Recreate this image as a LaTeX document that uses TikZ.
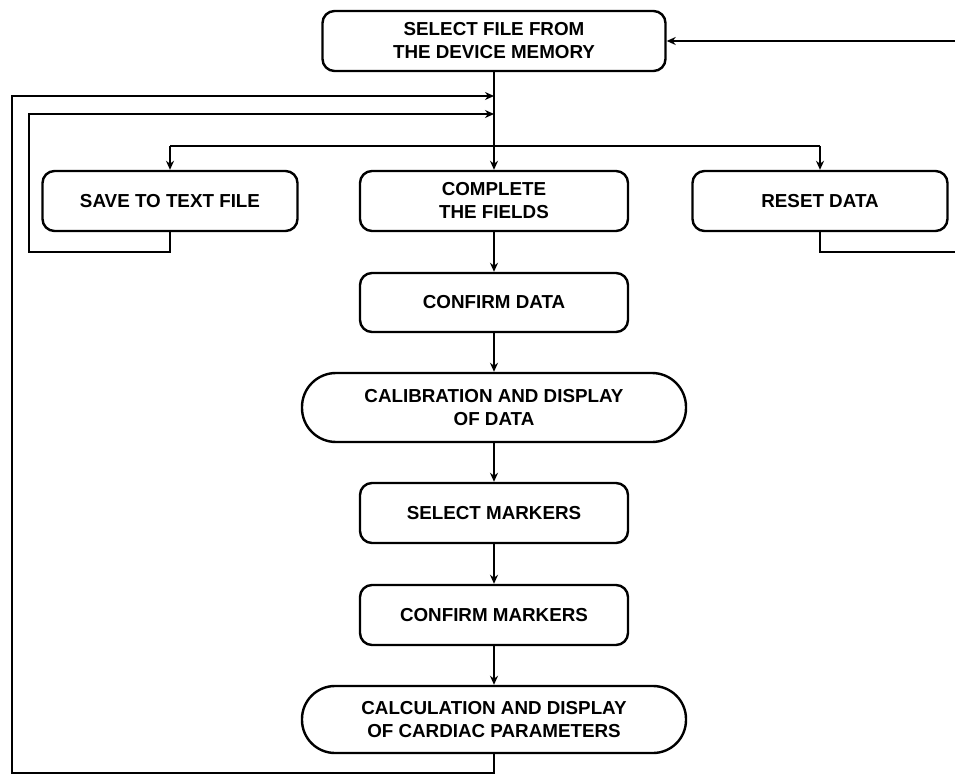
\documentclass[tikz,border=0pt]{standalone}
\usepackage{fontspec}
\setmainfont{Liberation Sans}
\usetikzlibrary{arrows.meta}
\begin{document}
\begin{tikzpicture}[x=1pt,y=-1pt,
  every node/.style={font=\fontsize{18.8}{23}\selectfont\bfseries, align=center, line width=2.4pt, inner sep=0pt},
  box/.style={draw, rectangle, rounded corners=12pt, minimum height=60pt},
  term/.style={draw, rectangle, rounded corners=34pt},
  conn/.style={line width=2.2pt},
  arr/.style={conn, -{Stealth[length=9pt,width=8pt]}}]
\useasboundingbox (0,0) rectangle (955,775);
\node[box, minimum width=343pt] (top) at (494,41) {SELECT FILE FROM\\THE DEVICE MEMORY};
\node[box, minimum width=255pt] (save) at (170,201) {SAVE TO TEXT FILE};
\node[box, minimum width=268pt] (fields) at (494,201) {COMPLETE\\THE FIELDS};
\node[box, minimum width=255pt] (reset) at (820,201) {RESET DATA};
\node[box, minimum width=268pt, minimum height=59pt] (cdata) at (494,302.5) {CONFIRM DATA};
\node[term, minimum width=384pt, minimum height=69pt] (calib) at (494,407.5) {CALIBRATION AND DISPLAY\\OF DATA};
\node[box, minimum width=268pt] (smark) at (494,513) {SELECT MARKERS};
\node[box, minimum width=268pt] (cmark) at (494,615) {CONFIRM MARKERS};
\node[term, minimum width=384pt, minimum height=67pt, rounded corners=33pt] (calc) at (494,719.5) {CALCULATION AND DISPLAY\\OF CARDIAC PARAMETERS};
% junction coordinates
\coordinate (inA) at (top.south |- 0,96);
\coordinate (inB) at (top.south |- 0,114);
\coordinate (split) at (top.south |- 0,146);
\coordinate (rin) at (955,41);
\coordinate (rout) at (955,252);
% main flow
\draw[arr] (rin) -- (top.east);
\draw[arr] (top.south) -- (fields.north);
\draw[conn] (split) -- (save.north |- split);
\draw[conn] (split) -- (reset.north |- split);
\draw[arr] (save.north |- split) -- (save.north);
\draw[arr] (reset.north |- split) -- (reset.north);
\draw[arr] (fields) -- (cdata);
\draw[arr] (cdata) -- (calib);
\draw[arr] (calib) -- (smark);
\draw[arr] (smark) -- (cmark);
\draw[arr] (cmark) -- (calc);
% feedback loops
\draw[arr] (calc.south) -- (calc.south |- 0,773) -- (12,773) -- (12,96) -- (inA);
\draw[arr] (save.south) -- (save.south |- 0,252) -- (29,252) -- (29,114) -- (inB);
\draw[conn] (reset.south) -- (reset.south |- rout) -- (rout);
\end{tikzpicture}
\end{document}
